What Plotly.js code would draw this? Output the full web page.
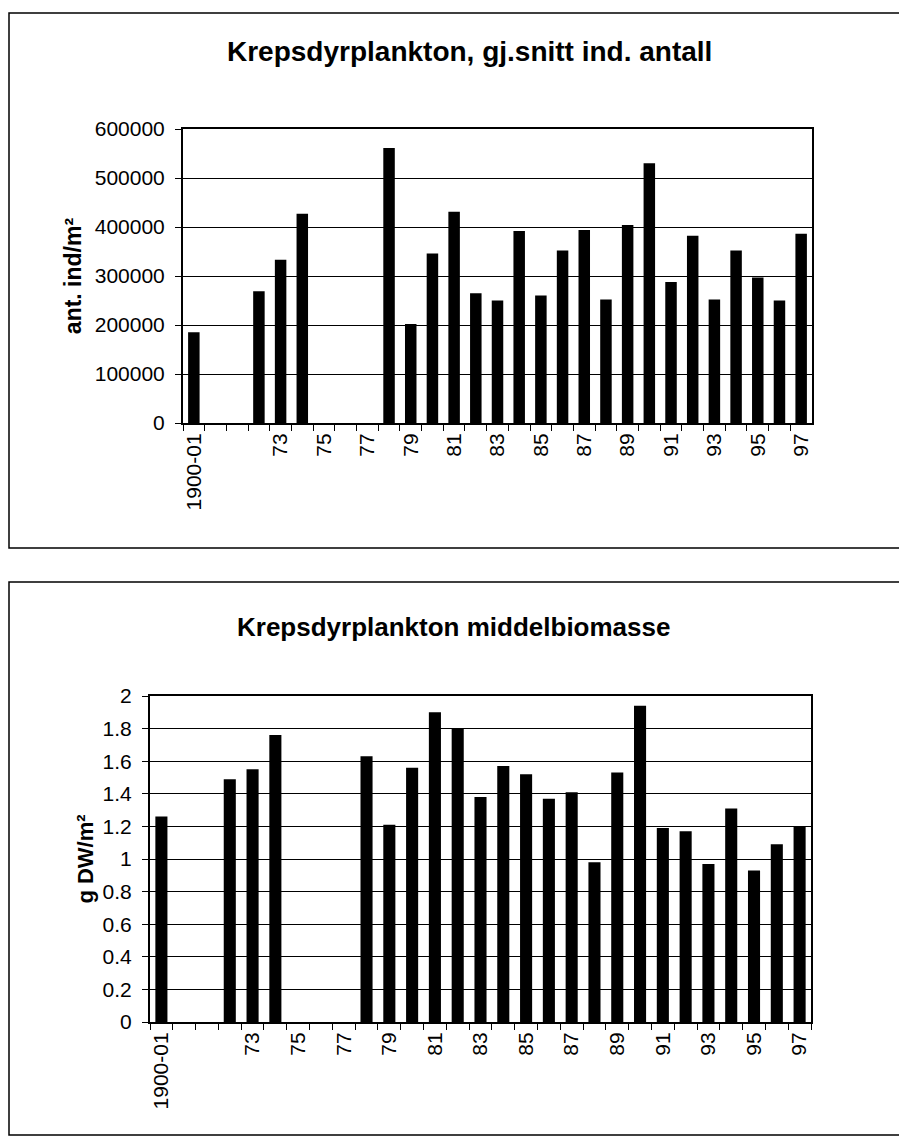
<!DOCTYPE html>
<html>
<head>
<meta charset="utf-8">
<script src="https://cdn.plot.ly/plotly-3.0.1.min.js"></script>
<style>
html,body{margin:0;padding:0;background:#fff;}
#chart{width:899px;height:1140px;}
</style>
</head>
<body>
<div id="chart"></div>
<script>
// Categories (year labels as in the source)
const years = ['1900-01','70','71','72','73','74','75','76','77','78','79','80','81','82','83','84','85','86','87','88','89','90','91','92','93','94','95','96','97'];
// Shown tick labels (every other category, some blank as in the source)
const tickLabels = ['1900-01','','','','73','','75','','77','','79','','81','','83','','85','','87','','89','','91','','93','','95','','97'];

// Top chart: mean number of individuals (ind/m²)
const antall = [185000,null,null,269000,333000,427000,null,null,null,561000,202000,346000,431000,265000,250000,392000,260000,352000,394000,252000,404000,530000,288000,382000,252000,352000,297000,250000,386000];

// Bottom chart: mean biomass (g DW/m²)
const biomasse = [1.26,null,null,1.49,1.55,1.76,null,null,null,1.63,1.21,1.56,1.9,1.8,1.38,1.57,1.52,1.37,1.41,0.98,1.53,1.94,1.19,1.17,0.97,1.31,0.93,1.09,1.2];

const title1 = 'Krepsdyrplankton, gj.snitt ind. antall';
const title2 = 'Krepsdyrplankton middelbiomasse';
const ytitle1 = 'ant. ind/m²';
const ytitle2 = 'g DW/m²';

const FONT = 'Liberation Sans, Arial, sans-serif';
const W = 899, H = 1140;
const px = v => v / W;
const py = v => 1 - v / H;

const traces = [
  {type:'bar', x: years, y: antall, xaxis:'x', yaxis:'y', marker:{color:'#000'}, hoverinfo:'x+y'},
  {type:'bar', x: years, y: biomasse, xaxis:'x2', yaxis:'y2', marker:{color:'#000'}, hoverinfo:'x+y'}
];

const xCommon = {
  type:'category', categoryorder:'array', categoryarray: years,
  tickmode:'array', tickvals: years, ticktext: tickLabels,
  tickangle:-90, tickson:'boundaries', ticks:'outside', ticklen:6, tickcolor:'#000', tickwidth:1,
  showline:true, linecolor:'#000', linewidth:2, mirror:true,
  showgrid:false, zeroline:false,
  tickfont:{family:FONT, size:21, color:'#000'},
  fixedrange:true
};
const yCommon = {
  ticks:'outside', ticklen:6, tickcolor:'#000', tickwidth:1,
  showline:true, linecolor:'#000', linewidth:2, mirror:true,
  showgrid:true, gridcolor:'#000', gridwidth:1, zeroline:false,
  tickfont:{family:FONT, size:21, color:'#000'},
  ticklabelstandoff:6,
  fixedrange:true
};

const layout = {
  width: W, height: H,
  margin:{l:0,r:0,t:0,b:0},
  paper_bgcolor:'#fff', plot_bgcolor:'#fff',
  showlegend:false, bargap:0.47,
  xaxis: Object.assign({}, xCommon, {domain:[px(183), px(812)], anchor:'y'}),
  yaxis: Object.assign({}, yCommon, {domain:[py(423), py(129)], anchor:'x', range:[0,600000], dtick:100000, tickformat:'d',
    title:{text:'<b>'+ytitle1+'</b>', font:{family:FONT, size:23, color:'#000'}, standoff:7}}),
  xaxis2: Object.assign({}, xCommon, {domain:[px(150), px(811)], anchor:'y2'}),
  yaxis2: Object.assign({}, yCommon, {domain:[py(1022), py(696)], anchor:'x2', range:[0,2], dtick:0.2,
    title:{text:'<b>'+ytitle2+'</b>', font:{family:FONT, size:22, color:'#000'}, standoff:3}}),
  annotations:[
    {text:'<b>'+title1+'</b>', xref:'paper', yref:'paper', x:px(470), y:py(51), xanchor:'center', yanchor:'middle', showarrow:false, font:{family:FONT, size:28, color:'#000'}},
    {text:'<b>'+title2+'</b>', xref:'paper', yref:'paper', x:px(453), y:py(627), xanchor:'center', yanchor:'middle', showarrow:false, font:{family:FONT, size:26, color:'#000'}}
  ],
  shapes:[
    {type:'rect', xref:'paper', yref:'paper', x0:px(9), x1:1.02, y0:py(548), y1:py(13), line:{color:'#000', width:1.5}},
    {type:'rect', xref:'paper', yref:'paper', x0:px(9), x1:1.02, y0:py(1135), y1:py(582), line:{color:'#000', width:1.5}}
  ]
};

Plotly.newPlot('chart', traces, layout, {staticPlot:true, displayModeBar:false});
</script>
</body>
</html>
